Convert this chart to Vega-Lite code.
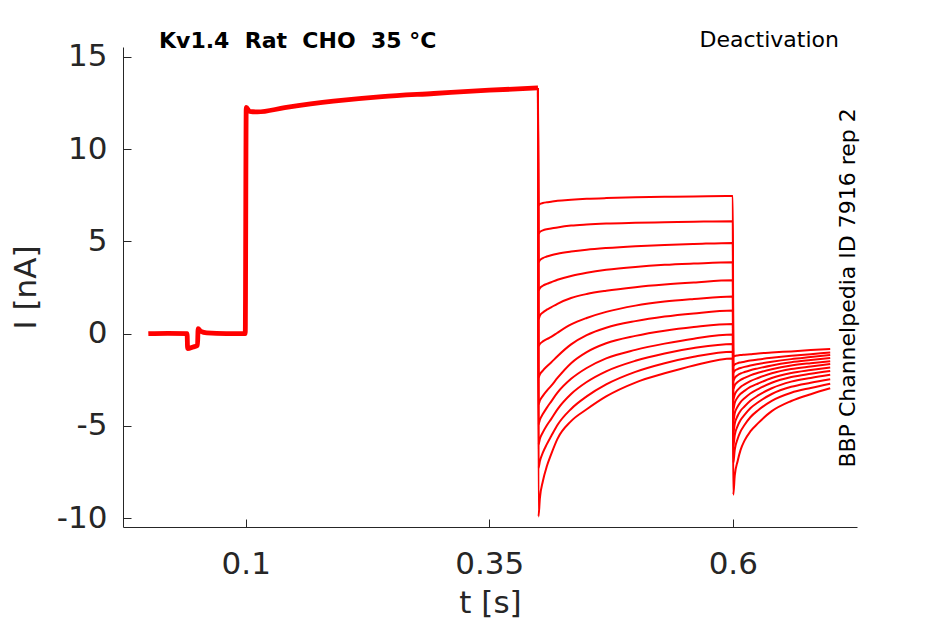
{
  "$schema": "https://vega.github.io/schema/vega-lite/v6.json",
  "width": 734,
  "height": 480,
  "autosize": "none",
  "padding": {"left": 123, "top": 47, "right": 88, "bottom": 97},
  "background": "white",
  "datasets": {
    "prepulse": [
      {"t": 0, "I": 0.0}, {"t": 0.02, "I": 0.02}, {"t": 0.0398, "I": 0.0}, {"t": 0.0403, "I": -0.81},
      {"t": 0.046, "I": -0.72}, {"t": 0.0505, "I": -0.63}, {"t": 0.0511, "I": 0.27}, {"t": 0.054, "I": 0.12},
      {"t": 0.06, "I": 0.04}, {"t": 0.08, "I": 0.0}, {"t": 0.0995, "I": 0.0}, {"t": 0.1005, "I": 12.26},
      {"t": 0.104, "I": 12.05}, {"t": 0.112, "I": 12.02}, {"t": 0.14, "I": 12.25}, {"t": 0.19, "I": 12.6},
      {"t": 0.24, "I": 12.85}, {"t": 0.293, "I": 13.02}, {"t": 0.35, "I": 13.2}, {"t": 0.4, "I": 13.32}
    ],
    "traces": [
      {"sweep": 1, "t": 0.4, "I": 13.32}, {"sweep": 1, "t": 0.4005, "I": 6.97}, {"sweep": 1, "t": 0.402, "I": 7.03}, {"sweep": 1, "t": 0.405, "I": 7.08}, {"sweep": 1, "t": 0.409, "I": 7.12}, {"sweep": 1, "t": 0.4135, "I": 7.15}, {"sweep": 1, "t": 0.42, "I": 7.2}, {"sweep": 1, "t": 0.434, "I": 7.26}, {"sweep": 1, "t": 0.45, "I": 7.31}, {"sweep": 1, "t": 0.47, "I": 7.35}, {"sweep": 1, "t": 0.5, "I": 7.39}, {"sweep": 1, "t": 0.53, "I": 7.42}, {"sweep": 1, "t": 0.56, "I": 7.44}, {"sweep": 1, "t": 0.6, "I": 7.46},
      {"sweep": 1, "t": 0.6005, "I": -1.24}, {"sweep": 1, "t": 0.602, "I": -1.21}, {"sweep": 1, "t": 0.605, "I": -1.18}, {"sweep": 1, "t": 0.608, "I": -1.16}, {"sweep": 1, "t": 0.612, "I": -1.14}, {"sweep": 1, "t": 0.618, "I": -1.11}, {"sweep": 1, "t": 0.626, "I": -1.07}, {"sweep": 1, "t": 0.64, "I": -1.02}, {"sweep": 1, "t": 0.66, "I": -0.96}, {"sweep": 1, "t": 0.68, "I": -0.89}, {"sweep": 1, "t": 0.7, "I": -0.83},

      {"sweep": 2, "t": 0.4, "I": 13.32}, {"sweep": 2, "t": 0.4005, "I": 5.43}, {"sweep": 2, "t": 0.402, "I": 5.52}, {"sweep": 2, "t": 0.405, "I": 5.6}, {"sweep": 2, "t": 0.409, "I": 5.66}, {"sweep": 2, "t": 0.4135, "I": 5.7}, {"sweep": 2, "t": 0.42, "I": 5.76}, {"sweep": 2, "t": 0.434, "I": 5.86}, {"sweep": 2, "t": 0.45, "I": 5.92}, {"sweep": 2, "t": 0.47, "I": 5.97}, {"sweep": 2, "t": 0.5, "I": 6.01}, {"sweep": 2, "t": 0.53, "I": 6.04}, {"sweep": 2, "t": 0.56, "I": 6.07}, {"sweep": 2, "t": 0.6, "I": 6.1},
      {"sweep": 2, "t": 0.6005, "I": -1.74}, {"sweep": 2, "t": 0.602, "I": -1.67}, {"sweep": 2, "t": 0.605, "I": -1.6}, {"sweep": 2, "t": 0.608, "I": -1.56}, {"sweep": 2, "t": 0.612, "I": -1.52}, {"sweep": 2, "t": 0.618, "I": -1.46}, {"sweep": 2, "t": 0.626, "I": -1.4}, {"sweep": 2, "t": 0.64, "I": -1.31}, {"sweep": 2, "t": 0.66, "I": -1.2}, {"sweep": 2, "t": 0.68, "I": -1.11}, {"sweep": 2, "t": 0.7, "I": -1.02},

      {"sweep": 3, "t": 0.4, "I": 13.32}, {"sweep": 3, "t": 0.4005, "I": 3.88}, {"sweep": 3, "t": 0.402, "I": 3.99}, {"sweep": 3, "t": 0.405, "I": 4.1}, {"sweep": 3, "t": 0.409, "I": 4.18}, {"sweep": 3, "t": 0.4135, "I": 4.25}, {"sweep": 3, "t": 0.42, "I": 4.33}, {"sweep": 3, "t": 0.434, "I": 4.45}, {"sweep": 3, "t": 0.45, "I": 4.55}, {"sweep": 3, "t": 0.47, "I": 4.64}, {"sweep": 3, "t": 0.5, "I": 4.74}, {"sweep": 3, "t": 0.53, "I": 4.81}, {"sweep": 3, "t": 0.56, "I": 4.86}, {"sweep": 3, "t": 0.6, "I": 4.92},
      {"sweep": 3, "t": 0.6005, "I": -2.11}, {"sweep": 3, "t": 0.602, "I": -2.01}, {"sweep": 3, "t": 0.605, "I": -1.92}, {"sweep": 3, "t": 0.608, "I": -1.86}, {"sweep": 3, "t": 0.612, "I": -1.8}, {"sweep": 3, "t": 0.618, "I": -1.72}, {"sweep": 3, "t": 0.626, "I": -1.64}, {"sweep": 3, "t": 0.64, "I": -1.52}, {"sweep": 3, "t": 0.66, "I": -1.38}, {"sweep": 3, "t": 0.68, "I": -1.27}, {"sweep": 3, "t": 0.7, "I": -1.16},

      {"sweep": 4, "t": 0.4, "I": 13.32}, {"sweep": 4, "t": 0.4005, "I": 2.34}, {"sweep": 4, "t": 0.402, "I": 2.47}, {"sweep": 4, "t": 0.405, "I": 2.6}, {"sweep": 4, "t": 0.409, "I": 2.7}, {"sweep": 4, "t": 0.4135, "I": 2.79}, {"sweep": 4, "t": 0.42, "I": 2.92}, {"sweep": 4, "t": 0.434, "I": 3.13}, {"sweep": 4, "t": 0.45, "I": 3.3}, {"sweep": 4, "t": 0.47, "I": 3.46}, {"sweep": 4, "t": 0.5, "I": 3.62}, {"sweep": 4, "t": 0.53, "I": 3.73}, {"sweep": 4, "t": 0.56, "I": 3.8}, {"sweep": 4, "t": 0.6, "I": 3.87},
      {"sweep": 4, "t": 0.6005, "I": -2.56}, {"sweep": 4, "t": 0.602, "I": -2.4}, {"sweep": 4, "t": 0.605, "I": -2.25}, {"sweep": 4, "t": 0.608, "I": -2.16}, {"sweep": 4, "t": 0.612, "I": -2.08}, {"sweep": 4, "t": 0.618, "I": -1.98}, {"sweep": 4, "t": 0.626, "I": -1.88}, {"sweep": 4, "t": 0.64, "I": -1.72}, {"sweep": 4, "t": 0.66, "I": -1.55}, {"sweep": 4, "t": 0.68, "I": -1.43}, {"sweep": 4, "t": 0.7, "I": -1.32},

      {"sweep": 5, "t": 0.4, "I": 13.32}, {"sweep": 5, "t": 0.4005, "I": 0.8}, {"sweep": 5, "t": 0.402, "I": 0.98}, {"sweep": 5, "t": 0.405, "I": 1.15}, {"sweep": 5, "t": 0.409, "I": 1.3}, {"sweep": 5, "t": 0.4135, "I": 1.43}, {"sweep": 5, "t": 0.42, "I": 1.62}, {"sweep": 5, "t": 0.434, "I": 1.93}, {"sweep": 5, "t": 0.45, "I": 2.15}, {"sweep": 5, "t": 0.47, "I": 2.33}, {"sweep": 5, "t": 0.5, "I": 2.52}, {"sweep": 5, "t": 0.53, "I": 2.66}, {"sweep": 5, "t": 0.56, "I": 2.77}, {"sweep": 5, "t": 0.6, "I": 2.89},
      {"sweep": 5, "t": 0.6005, "I": -3.01}, {"sweep": 5, "t": 0.602, "I": -2.8}, {"sweep": 5, "t": 0.605, "I": -2.62}, {"sweep": 5, "t": 0.608, "I": -2.5}, {"sweep": 5, "t": 0.612, "I": -2.4}, {"sweep": 5, "t": 0.618, "I": -2.26}, {"sweep": 5, "t": 0.626, "I": -2.12}, {"sweep": 5, "t": 0.64, "I": -1.93}, {"sweep": 5, "t": 0.66, "I": -1.73}, {"sweep": 5, "t": 0.68, "I": -1.6}, {"sweep": 5, "t": 0.7, "I": -1.49},

      {"sweep": 6, "t": 0.4, "I": 13.32}, {"sweep": 6, "t": 0.4005, "I": -0.65}, {"sweep": 6, "t": 0.402, "I": -0.55}, {"sweep": 6, "t": 0.405, "I": -0.42}, {"sweep": 6, "t": 0.409, "I": -0.3}, {"sweep": 6, "t": 0.4135, "I": -0.18}, {"sweep": 6, "t": 0.42, "I": 0.05}, {"sweep": 6, "t": 0.434, "I": 0.5}, {"sweep": 6, "t": 0.45, "I": 0.85}, {"sweep": 6, "t": 0.47, "I": 1.18}, {"sweep": 6, "t": 0.5, "I": 1.52}, {"sweep": 6, "t": 0.53, "I": 1.74}, {"sweep": 6, "t": 0.56, "I": 1.88}, {"sweep": 6, "t": 0.6, "I": 2.02},
      {"sweep": 6, "t": 0.6005, "I": -3.56}, {"sweep": 6, "t": 0.602, "I": -3.3}, {"sweep": 6, "t": 0.605, "I": -3.05}, {"sweep": 6, "t": 0.608, "I": -2.89}, {"sweep": 6, "t": 0.612, "I": -2.75}, {"sweep": 6, "t": 0.618, "I": -2.57}, {"sweep": 6, "t": 0.626, "I": -2.4}, {"sweep": 6, "t": 0.64, "I": -2.15}, {"sweep": 6, "t": 0.66, "I": -1.92}, {"sweep": 6, "t": 0.68, "I": -1.78}, {"sweep": 6, "t": 0.7, "I": -1.65},

      {"sweep": 7, "t": 0.4, "I": 13.32}, {"sweep": 7, "t": 0.4005, "I": -2.38}, {"sweep": 7, "t": 0.402, "I": -2.2}, {"sweep": 7, "t": 0.405, "I": -2.0}, {"sweep": 7, "t": 0.409, "I": -1.78}, {"sweep": 7, "t": 0.4135, "I": -1.56}, {"sweep": 7, "t": 0.42, "I": -1.22}, {"sweep": 7, "t": 0.434, "I": -0.58}, {"sweep": 7, "t": 0.45, "I": -0.08}, {"sweep": 7, "t": 0.47, "I": 0.32}, {"sweep": 7, "t": 0.5, "I": 0.68}, {"sweep": 7, "t": 0.53, "I": 0.93}, {"sweep": 7, "t": 0.56, "I": 1.1}, {"sweep": 7, "t": 0.6, "I": 1.25},
      {"sweep": 7, "t": 0.6005, "I": -4.1}, {"sweep": 7, "t": 0.602, "I": -3.76}, {"sweep": 7, "t": 0.605, "I": -3.45}, {"sweep": 7, "t": 0.608, "I": -3.26}, {"sweep": 7, "t": 0.612, "I": -3.1}, {"sweep": 7, "t": 0.618, "I": -2.89}, {"sweep": 7, "t": 0.626, "I": -2.7}, {"sweep": 7, "t": 0.64, "I": -2.4}, {"sweep": 7, "t": 0.66, "I": -2.13}, {"sweep": 7, "t": 0.68, "I": -1.97}, {"sweep": 7, "t": 0.7, "I": -1.83},

      {"sweep": 8, "t": 0.4, "I": 13.32}, {"sweep": 8, "t": 0.4005, "I": -3.83}, {"sweep": 8, "t": 0.402, "I": -3.62}, {"sweep": 8, "t": 0.405, "I": -3.37}, {"sweep": 8, "t": 0.409, "I": -3.1}, {"sweep": 8, "t": 0.4135, "I": -2.83}, {"sweep": 8, "t": 0.42, "I": -2.4}, {"sweep": 8, "t": 0.434, "I": -1.6}, {"sweep": 8, "t": 0.45, "I": -1.0}, {"sweep": 8, "t": 0.47, "I": -0.52}, {"sweep": 8, "t": 0.5, "I": -0.12}, {"sweep": 8, "t": 0.53, "I": 0.16}, {"sweep": 8, "t": 0.56, "I": 0.36}, {"sweep": 8, "t": 0.6, "I": 0.53},
      {"sweep": 8, "t": 0.6005, "I": -4.74}, {"sweep": 8, "t": 0.602, "I": -4.32}, {"sweep": 8, "t": 0.605, "I": -3.95}, {"sweep": 8, "t": 0.608, "I": -3.71}, {"sweep": 8, "t": 0.612, "I": -3.5}, {"sweep": 8, "t": 0.618, "I": -3.24}, {"sweep": 8, "t": 0.626, "I": -3.0}, {"sweep": 8, "t": 0.64, "I": -2.66}, {"sweep": 8, "t": 0.66, "I": -2.35}, {"sweep": 8, "t": 0.68, "I": -2.17}, {"sweep": 8, "t": 0.7, "I": -2.02},

      {"sweep": 9, "t": 0.4, "I": 13.32}, {"sweep": 9, "t": 0.4005, "I": -4.92}, {"sweep": 9, "t": 0.402, "I": -4.66}, {"sweep": 9, "t": 0.405, "I": -4.36}, {"sweep": 9, "t": 0.409, "I": -4.02}, {"sweep": 9, "t": 0.4135, "I": -3.68}, {"sweep": 9, "t": 0.42, "I": -3.2}, {"sweep": 9, "t": 0.434, "I": -2.45}, {"sweep": 9, "t": 0.45, "I": -1.86}, {"sweep": 9, "t": 0.47, "I": -1.34}, {"sweep": 9, "t": 0.5, "I": -0.88}, {"sweep": 9, "t": 0.53, "I": -0.54}, {"sweep": 9, "t": 0.56, "I": -0.27}, {"sweep": 9, "t": 0.6, "I": -0.05},
      {"sweep": 9, "t": 0.6005, "I": -5.38}, {"sweep": 9, "t": 0.602, "I": -4.88}, {"sweep": 9, "t": 0.605, "I": -4.45}, {"sweep": 9, "t": 0.608, "I": -4.18}, {"sweep": 9, "t": 0.612, "I": -3.95}, {"sweep": 9, "t": 0.618, "I": -3.64}, {"sweep": 9, "t": 0.626, "I": -3.35}, {"sweep": 9, "t": 0.64, "I": -2.96}, {"sweep": 9, "t": 0.66, "I": -2.6}, {"sweep": 9, "t": 0.68, "I": -2.4}, {"sweep": 9, "t": 0.7, "I": -2.23},

      {"sweep": 10, "t": 0.4, "I": 13.32}, {"sweep": 10, "t": 0.4005, "I": -6.01}, {"sweep": 10, "t": 0.402, "I": -5.7}, {"sweep": 10, "t": 0.405, "I": -5.35}, {"sweep": 10, "t": 0.409, "I": -4.98}, {"sweep": 10, "t": 0.4135, "I": -4.63}, {"sweep": 10, "t": 0.42, "I": -4.1}, {"sweep": 10, "t": 0.434, "I": -3.27}, {"sweep": 10, "t": 0.45, "I": -2.62}, {"sweep": 10, "t": 0.47, "I": -2.04}, {"sweep": 10, "t": 0.5, "I": -1.47}, {"sweep": 10, "t": 0.53, "I": -1.07}, {"sweep": 10, "t": 0.56, "I": -0.78}, {"sweep": 10, "t": 0.6, "I": -0.56},
      {"sweep": 10, "t": 0.6005, "I": -6.1}, {"sweep": 10, "t": 0.602, "I": -5.5}, {"sweep": 10, "t": 0.605, "I": -5.0}, {"sweep": 10, "t": 0.608, "I": -4.68}, {"sweep": 10, "t": 0.612, "I": -4.4}, {"sweep": 10, "t": 0.618, "I": -4.04}, {"sweep": 10, "t": 0.626, "I": -3.72}, {"sweep": 10, "t": 0.64, "I": -3.27}, {"sweep": 10, "t": 0.66, "I": -2.88}, {"sweep": 10, "t": 0.68, "I": -2.66}, {"sweep": 10, "t": 0.7, "I": -2.47},

      {"sweep": 11, "t": 0.4, "I": 13.32}, {"sweep": 11, "t": 0.4005, "I": -7.28}, {"sweep": 11, "t": 0.402, "I": -6.9}, {"sweep": 11, "t": 0.405, "I": -6.45}, {"sweep": 11, "t": 0.409, "I": -6.0}, {"sweep": 11, "t": 0.4135, "I": -5.56}, {"sweep": 11, "t": 0.42, "I": -4.95}, {"sweep": 11, "t": 0.434, "I": -4.08}, {"sweep": 11, "t": 0.45, "I": -3.4}, {"sweep": 11, "t": 0.47, "I": -2.75}, {"sweep": 11, "t": 0.5, "I": -2.07}, {"sweep": 11, "t": 0.53, "I": -1.6}, {"sweep": 11, "t": 0.56, "I": -1.25}, {"sweep": 11, "t": 0.6, "I": -0.98},
      {"sweep": 11, "t": 0.6005, "I": -7.01}, {"sweep": 11, "t": 0.602, "I": -6.3}, {"sweep": 11, "t": 0.605, "I": -5.7}, {"sweep": 11, "t": 0.608, "I": -5.3}, {"sweep": 11, "t": 0.612, "I": -4.95}, {"sweep": 11, "t": 0.618, "I": -4.53}, {"sweep": 11, "t": 0.626, "I": -4.15}, {"sweep": 11, "t": 0.64, "I": -3.64}, {"sweep": 11, "t": 0.66, "I": -3.2}, {"sweep": 11, "t": 0.68, "I": -2.94}, {"sweep": 11, "t": 0.7, "I": -2.71},

      {"sweep": 12, "t": 0.4, "I": 13.32}, {"sweep": 12, "t": 0.4005, "I": -9.91}, {"sweep": 12, "t": 0.402, "I": -8.9}, {"sweep": 12, "t": 0.405, "I": -8.0}, {"sweep": 12, "t": 0.409, "I": -7.2}, {"sweep": 12, "t": 0.4135, "I": -6.54}, {"sweep": 12, "t": 0.42, "I": -5.7}, {"sweep": 12, "t": 0.434, "I": -4.74}, {"sweep": 12, "t": 0.45, "I": -4.1}, {"sweep": 12, "t": 0.47, "I": -3.4}, {"sweep": 12, "t": 0.5, "I": -2.65}, {"sweep": 12, "t": 0.53, "I": -2.15}, {"sweep": 12, "t": 0.56, "I": -1.72}, {"sweep": 12, "t": 0.6, "I": -1.35},
      {"sweep": 12, "t": 0.6005, "I": -8.73}, {"sweep": 12, "t": 0.602, "I": -7.7}, {"sweep": 12, "t": 0.605, "I": -6.9}, {"sweep": 12, "t": 0.608, "I": -6.3}, {"sweep": 12, "t": 0.612, "I": -5.8}, {"sweep": 12, "t": 0.618, "I": -5.3}, {"sweep": 12, "t": 0.626, "I": -4.85}, {"sweep": 12, "t": 0.64, "I": -4.2}, {"sweep": 12, "t": 0.66, "I": -3.65}, {"sweep": 12, "t": 0.68, "I": -3.28}, {"sweep": 12, "t": 0.7, "I": -2.96}
    ]
  },
  "layer": [
    {
      "data": {"name": "prepulse"},
      "mark": {"type": "line", "color": "#ff0000", "strokeWidth": 4.8, "interpolate": "monotone", "clip": false},
      "encoding": {
        "x": {
          "field": "t", "type": "quantitative",
          "scale": {"domain": [-0.026, 0.7275], "nice": false, "zero": false},
          "axis": {
            "title": "t [s]",
            "values": [0.1, 0.35, 0.6],
            "labelExpr": "'' + datum.value",
            "grid": false,
            "tickSize": -8,
            "labelPadding": 30,
            "titlePadding": 9
          }
        },
        "y": {
          "field": "I", "type": "quantitative",
          "scale": {"domain": [-10.48, 15.54], "nice": false, "zero": false},
          "axis": {
            "title": "I [nA]",
            "values": [-10, -5, 0, 5, 10, 15],
            "labelExpr": "datum.value < 0 ? '-' + abs(datum.value) : '' + datum.value",
            "grid": false,
            "tickSize": -8,
            "labelPadding": 24,
            "titlePadding": 14
          }
        }
      }
    },
    {
      "data": {"name": "traces"},
      "mark": {"type": "line", "color": "#ff0000", "strokeWidth": 2, "interpolate": "monotone"},
      "encoding": {
        "x": {"field": "t", "type": "quantitative"},
        "y": {"field": "I", "type": "quantitative"},
        "detail": {"field": "sweep", "type": "nominal"}
      }
    },
    {
      "data": {"values": [{"label": "Kv1.4\u00a0\u00a0Rat\u00a0\u00a0CHO\u00a0\u00a035 °C"}]},
      "mark": {"type": "text", "align": "left", "baseline": "alphabetic", "font": "DejaVu Sans", "fontWeight": "bold", "fontSize": 22, "color": "#000000"},
      "encoding": {
        "x": {"datum": 0.011, "type": "quantitative"},
        "y": {"datum": 15.48, "type": "quantitative"},
        "text": {"field": "label"}
      }
    },
    {
      "data": {"values": [{"label": "Deactivation"}]},
      "mark": {"type": "text", "align": "right", "baseline": "alphabetic", "font": "DejaVu Sans", "fontSize": 22, "color": "#000000"},
      "encoding": {
        "x": {"datum": 0.709, "type": "quantitative"},
        "y": {"datum": 15.54, "type": "quantitative"},
        "text": {"field": "label"}
      }
    },
    {
      "data": {"values": [{"label": "BBP Channelpedia ID 7916 rep 2"}]},
      "mark": {"type": "text", "align": "center", "baseline": "alphabetic", "angle": 270, "font": "DejaVu Sans", "fontSize": 22, "color": "#000000"},
      "encoding": {
        "x": {"datum": 0.7255, "type": "quantitative"},
        "y": {"datum": 2.48, "type": "quantitative"},
        "text": {"field": "label"}
      }
    }
  ],
  "config": {
    "view": {"stroke": null},
    "axis": {
      "domainColor": "#262626",
      "tickColor": "#262626",
      "labelColor": "#262626",
      "titleColor": "#262626",
      "labelFont": "DejaVu Sans",
      "titleFont": "DejaVu Sans",
      "labelFontSize": 31,
      "titleFontSize": 31,
      "titleFontWeight": "normal",
      "domainWidth": 1,
      "tickWidth": 1
    }
  }
}
